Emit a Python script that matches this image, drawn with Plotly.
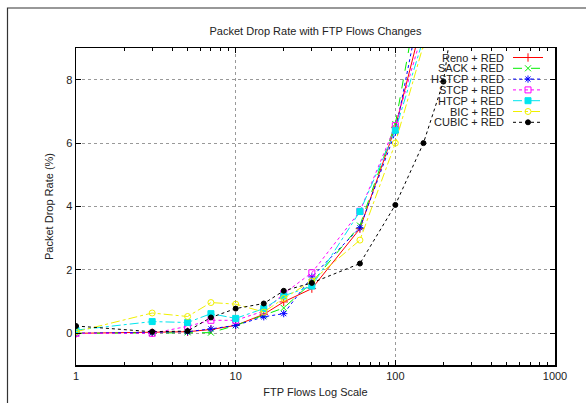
import plotly.graph_objects as go

# ---- data ----
flows = [1, 3, 5, 7, 10, 15, 20, 30, 60, 100, 150, 200]
reno = [0.0, 0.02, 0.05, 0.12, 0.25, 0.60, 0.99, 1.41, 3.30, 6.50, 10.0, 13.0]
sack = [0.0, 0.01, 0.03, 0.02, 0.25, 0.57, 0.80, 1.60, 3.40, 6.60, 12.0, 15.0]
hstcp = [0.0, 0.02, 0.05, 0.14, 0.25, 0.52, 0.62, 1.78, 3.33, 6.34, 10.8, 14.0]
stcp = [0.0, 0.0, 0.22, 0.41, 0.41, 0.70, 1.25, 1.91, 3.85, 6.55, 9.6, 13.0]
htcp = [0.10, 0.37, 0.34, 0.62, 0.47, 0.78, 1.18, 1.49, 3.84, 6.40, 9.3, 13.0]
bic = [0.05, 0.64, 0.53, 0.97, 0.92, 0.67, 1.10, 1.65, 2.94, 6.00, 9.1, 13.0]
cubic_flows = [1, 3, 5, 7, 10, 15, 20, 30, 60, 100, 150, 200, 300]
cubic = [0.23, 0.05, 0.07, 0.50, 0.78, 0.94, 1.34, 1.59, 2.20, 4.05, 6.00, 7.94, 14.0]

names = ["Reno + RED", "SACK + RED", "HSTCP + RED", "STCP + RED",
         "HTCP + RED", "BIC + RED", "CUBIC + RED"]
xs = [flows, flows, flows, flows, flows, flows, cubic_flows]
ys = [reno, sack, hstcp, stcp, htcp, bic, cubic]

y_ticks = [0, 2, 4, 6, 8]
x_ticks = [1, 10, 100, 1000]

# ---- styles ----
styles = [
    dict(color="#ff0000", dash="solid", symbol="cross-thin-open", size=6),
    dict(color="#00ee00", dash="dash", symbol="x-thin-open", size=6),
    dict(color="#0000ff", dash="dot", symbol="asterisk-open", size=6),
    dict(color="#ff00ff", dash="dot", symbol="square-open", size=6),
    dict(color="#00e5ee", dash="dashdot", symbol="square", size=6),
    dict(color="#f0f000", dash="dashdot", symbol="circle-open", size=6),
    dict(color="#000000", dash="dot", symbol="circle", size=5),
]

W, H = 586, 403
L, R, T, B = 76, 555, 48, 365
FONT = "Liberation Sans, Arial, Helvetica, sans-serif"

fig = go.Figure()
for x, y, name, st in zip(xs, ys, names, styles):
    fig.add_trace(go.Scatter(
        x=x, y=y, name=name, mode="lines+markers",
        line=dict(color=st["color"], dash=st["dash"], width=1),
        marker=dict(symbol=st["symbol"], size=st["size"], color=st["color"],
                    line=dict(color=st["color"], width=1)),
        showlegend=False,
    ))

# ---- custom gnuplot-style legend (text left, sample right) ----
leg_y0, leg_dy = 57.5, 10.8
for i, (name, st) in enumerate(zip(names, styles)):
    yy = leg_y0 + i * leg_dy
    fig.add_trace(go.Scatter(
        x=[513, 543], y=[yy, yy], xaxis="x2", yaxis="y2", mode="lines",
        line=dict(color=st["color"], dash=st["dash"], width=1),
        showlegend=False, hoverinfo="skip"))
    fig.add_trace(go.Scatter(
        x=[528], y=[yy], xaxis="x2", yaxis="y2", mode="markers",
        marker=dict(symbol=st["symbol"], size=st["size"], color=st["color"],
                    line=dict(color=st["color"], width=1)),
        showlegend=False, hoverinfo="skip"))
    fig.add_annotation(x=506, y=yy, xref="x2", yref="y2", text=name,
                       showarrow=False, xanchor="right", yanchor="middle",
                       font=dict(family=FONT, size=11, color="#222"))

# outer frame (cropped figure border)
fig.add_shape(type="rect", xref="paper", yref="paper",
              x0=(7.5 - L) / (R - L), x1=(620 - L) / (R - L),
              y0=(B - 440) / (B - T), y1=(B - 8) / (B - T),
              line=dict(color="#333", width=1.2), fillcolor="rgba(0,0,0,0)",
              layer="below")

axis_common = dict(
    showline=True, linecolor="black", linewidth=1.5, mirror="allticks",
    ticks="inside", ticklen=5, tickcolor="black", tickwidth=1,
    showgrid=True, gridcolor="#999", griddash="dot", gridwidth=1,
    zeroline=False, automargin=False,
    tickfont=dict(family=FONT, size=11, color="#222"),
)

fig.update_layout(
    width=W, height=H,
    margin=dict(l=L, r=W - R, t=T, b=H - B, autoexpand=False),
    paper_bgcolor="white", plot_bgcolor="white",
    title=dict(text="Packet Drop Rate with FTP Flows Changes",
               x=(L + R) / 2 / W, xanchor="center", y=1 - 31 / H, yanchor="middle",
               font=dict(family=FONT, size=11, color="#222")),
    xaxis=dict(type="log", range=[0, 3], tickvals=x_ticks,
               ticktext=[str(v) for v in x_ticks],
               title=dict(text="FTP Flows Log Scale", standoff=7,
                          font=dict(family=FONT, size=11, color="#222")),
               minor=dict(ticks="inside", ticklen=3, tickcolor="black",
                          tickvals=[m * 10 ** d for d in range(3) for m in range(2, 10)],
                          showgrid=False),
               **axis_common),
    yaxis=dict(range=[-1, 9], tickvals=y_ticks,
               title=dict(text="Packet Drop Rate (%)", standoff=10,
                          font=dict(family=FONT, size=11, color="#222")),
               **axis_common),
    xaxis2=dict(overlaying="x", range=[L, R], visible=False, fixedrange=True),
    yaxis2=dict(overlaying="y", range=[B, T], visible=False, fixedrange=True),
)

fig.write_html(
    "out.html",
    config={"displayModeBar": False, "staticPlot": True},
    post_script="document.documentElement.style.margin='0';"
                "document.body.style.margin='0';"
                "document.body.style.overflow='hidden';",
)
